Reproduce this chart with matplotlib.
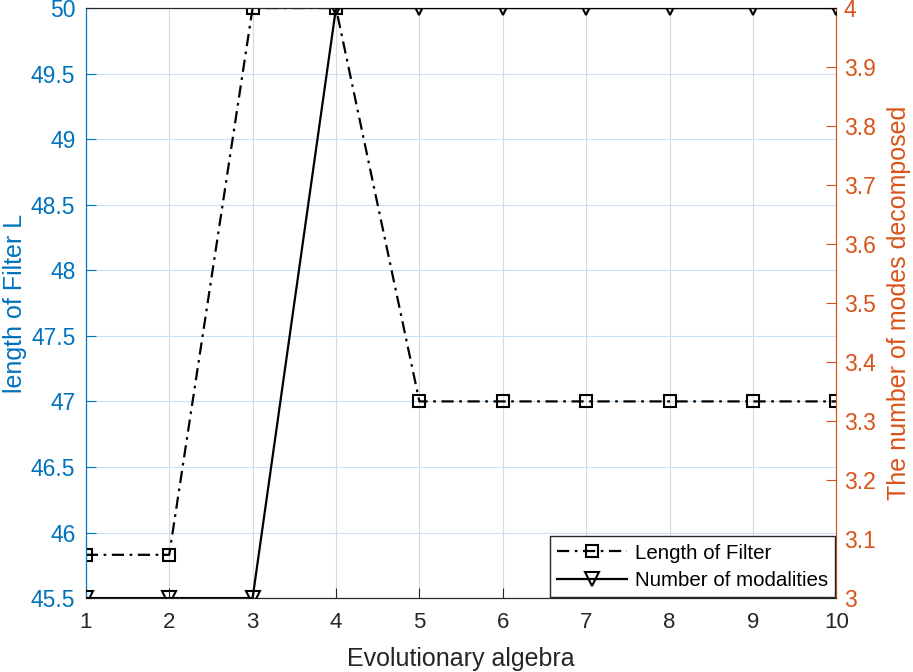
import matplotlib.pyplot as plt

plt.rcParams['font.family'] = ['Liberation Sans', 'DejaVu Sans']

gen = [1, 2, 3, 4, 5, 6, 7, 8, 9, 10]
filter_len = [45.83, 45.83, 50, 50, 47, 47, 47, 47, 47, 47]
n_modes = [3, 3, 3, 4, 4, 4, 4, 4, 4, 4]

left_ticks = [45.5, 46, 46.5, 47, 47.5, 48, 48.5, 49, 49.5, 50]
right_ticks = [3, 3.1, 3.2, 3.3, 3.4, 3.5, 3.6, 3.7, 3.8, 3.9, 4]

blue = (0, 0.447, 0.741)
orange = (0.85, 0.325, 0.098)

fig = plt.figure(figsize=(9.13, 6.72), dpi=100)
ax = fig.add_axes([0.094, 0.110, 0.822, 0.878])
ax2 = ax.twinx()

# MATLAB-like dash-dot
l1, = ax.plot(gen, filter_len, color='k', linestyle=(0, (5.5, 2.5, 1.2, 2.5)),
              linewidth=1.6, marker='s', markersize=8.5, markerfacecolor='none',
              markeredgewidth=1.5, zorder=5)
l2, = ax2.plot(gen, n_modes, color='k', linestyle='-', linewidth=1.6,
               marker='v', markersize=10, markerfacecolor='none',
               markeredgewidth=1.5, zorder=5)

ax.set_xlim(1, 10)
ax.set_ylim(45.5, 50)
ax2.set_ylim(3, 4)
ax.set_xticks(gen)
ax.set_yticks(left_ticks)
ax.set_yticklabels([f'{t:g}' for t in left_ticks])
ax2.set_yticks(right_ticks)
ax2.set_yticklabels([f'{t:g}' for t in right_ticks])

ax.grid(True, axis='x', color=(0.85, 0.85, 0.85), linewidth=0.8)
ax.grid(True, axis='y', color=(0.80, 0.88, 0.95), linewidth=0.8)
ax.set_axisbelow(True)

ax.tick_params(axis='x', labelsize=16, colors='#262626', direction='in',
               length=7, pad=10)
ax.tick_params(axis='y', labelsize=16.5, colors=blue, direction='in',
               length=7, pad=7.5)
ax2.tick_params(axis='y', labelsize=16.5, colors=orange, direction='in',
                length=7, pad=5.5)

for a in (ax, ax2):
    a.spines['top'].set_color('#262626')
    a.spines['bottom'].set_color('#262626')
    a.spines['left'].set_color(blue)
    a.spines['right'].set_color(orange)

ax.set_xlabel('Evolutionary algebra', fontsize=18, color='#262626', labelpad=10)
ax.set_ylabel('length of Filter L', fontsize=18, color=blue)
ax2.set_ylabel('The number of modes decomposed', fontsize=18, color=orange)
# place the y labels close to the figure edges, as in the original
ax.yaxis.set_label_coords(-0.078, 0.5)
ax2.yaxis.set_label_coords(1.067, 0.5)

leg = ax2.legend([l1, l2], ['Length of Filter', 'Number of modalities'],
                 loc='lower right', fontsize=14.8, fancybox=False,
                 edgecolor='#262626', framealpha=1, borderaxespad=0.05,
                 handlelength=3.4, labelspacing=0.4, borderpad=0.35,
                 handletextpad=0.4)
leg.get_frame().set_linewidth(1.0)

fig.savefig('out.png', dpi=100)
